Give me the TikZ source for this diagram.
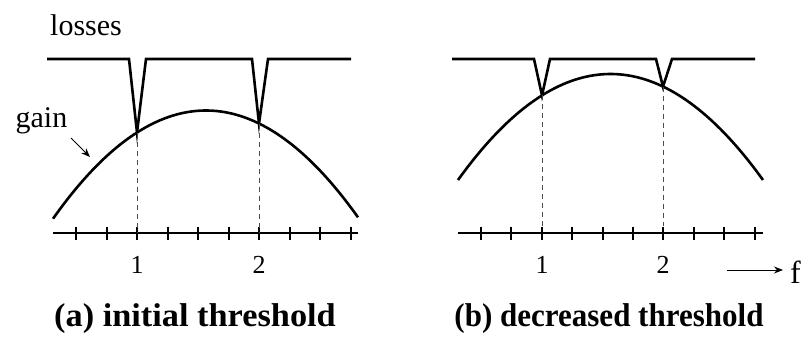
\documentclass[tikz,border=0pt]{standalone}
\usepackage{fontspec}
\setmainfont{Liberation Serif}
\usetikzlibrary{arrows.meta}
\begin{document}
\begin{tikzpicture}[x=1pt,y=-1pt,
  thickline/.style={line width=2.6pt, line join=miter},
  axisline/.style={line width=2.4pt},
  tickmark/.style={line width=2pt},
  guide/.style={line width=0.8pt, draw=black!70, dash pattern=on 5pt off 4pt},
  lbl/.style={font=\fontsize{30}{36}\selectfont, inner sep=0pt, anchor=base},
  num/.style={font=\fontsize{26}{30}\selectfont, inner sep=0pt, anchor=base},
  flbl/.style={font=\fontsize{32}{36}\selectfont, inner sep=0pt, anchor=base west},
  captext/.style={font=\fontsize{33}{40}\selectfont\bfseries, inner sep=0pt, anchor=base},
  thinarrow/.style={line width=0.8pt, -{Stealth[length=9pt,width=7pt]}}]
\useasboundingbox (0,0) rectangle (806,338);

% ---------- panel (a) ----------
\coordinate (a1) at (137,132.5);
\coordinate (a2) at (259,123.5);
\draw[thickline] (47,59) -- (129,59) -- (a1) -- (146,59) -- (252,59) -- (a2) -- (268,59) -- (351,59);
\draw[thickline] plot[domain=53:358, samples=80] (\x, {110.5+107.5*((\x-206)/152.5)^2});
\draw[axisline] (53,233) -- (358,233);
\foreach \k in {0,...,9} \draw[tickmark] ({76+30.5*\k},226.5) -- ({76+30.5*\k},239.5);
\coordinate (a1b) at (137,233);
\coordinate (a2b) at (259,233);
\draw[guide] (a1) -- (a1b);
\draw[guide] (a2) -- (a2b);
\node[num] (na1) at (137,273) {1};
\node[num] (na2) at (259,273) {2};
\node[lbl] (losses) at (86,35) {losses};
\node[lbl] (gain) at (41.5,127) {gain};
\coordinate (gaintail) at (71,138);
\coordinate (gaintip) at (90,157);
\draw[thinarrow] (gaintail) -- (gaintip);
\node[captext] (capa) at (195,326) {\scalebox{1.04}[1]{(a) initial threshold}};

% ---------- panel (b) ----------
\coordinate (b1) at (542,95.4);
\coordinate (b2) at (663,86.6);
\draw[thickline] (452,59) -- (534,59) -- (b1) -- (550,59) -- (656,59) -- (b2) -- (672,59) -- (755,59);
\draw[thickline] plot[domain=458:763, samples=80] (\x, {74+106*((\x-610.5)/152.5)^2});
\draw[axisline] (458,233) -- (763,233);
\foreach \k in {0,...,9} \draw[tickmark] ({481+30.4*\k},226.5) -- ({481+30.4*\k},239.5);
\coordinate (b1b) at (542,226);
\coordinate (b2b) at (663,226);
\draw[guide] (b1) -- (b1b);
\draw[guide] (b2) -- (b2b);
\node[num] (nb1) at (542,273) {1};
\node[num] (nb2) at (663,273) {2};
\node[flbl] (f) at (790,283) {f};
\coordinate (fs) at (727,270);
\coordinate (fe) at (783,270);
\draw[thinarrow] (fs) -- (fe);
\node[captext] (capb) at (609,326) {\scalebox{0.94}[1]{(b) decreased threshold}};
\end{tikzpicture}
\end{document}
